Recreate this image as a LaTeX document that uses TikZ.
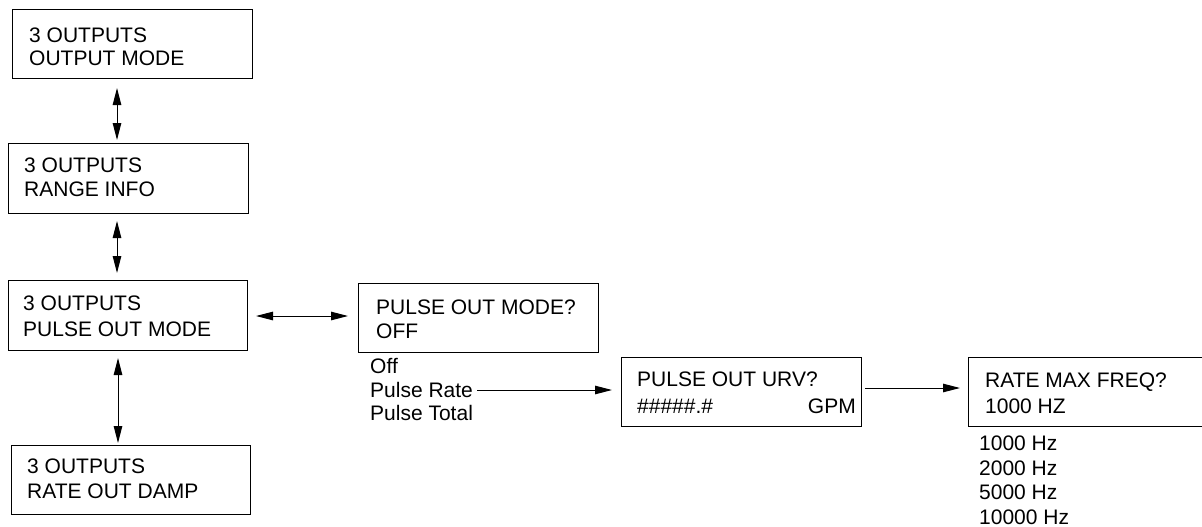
\documentclass[tikz,border=0pt]{standalone}
\usepackage{fontspec}
\setmainfont{Liberation Sans}
\usetikzlibrary{arrows.meta}
\begin{document}
\begin{tikzpicture}[x=1pt,y=-1pt,
  box/.style={draw,line width=1pt,inner sep=0pt,anchor=north west},
  txt/.style={anchor=base west,inner sep=0pt,font=\fontsize{21}{24}\selectfont},
  tip/.style={-{Triangle[length=17pt,width=8.5pt]}},
  both/.style={{Triangle[length=17pt,width=8.5pt]}-{Triangle[length=17pt,width=8.5pt]}},
  conn/.style={line width=1pt}]
\useasboundingbox (0,0) rectangle (1202,527);
\clip (0,0) rectangle (1202,527);
% boxes
\node[box,minimum width=240pt,minimum height=69pt] (b1) at (12,9) {};
\node[box,minimum width=240pt,minimum height=70pt] (b2) at (8,143) {};
\node[box,minimum width=239pt,minimum height=70pt] (b3) at (8,280) {};
\node[box,minimum width=239pt,minimum height=69pt] (b4) at (11,445) {};
\node[box,minimum width=240pt,minimum height=69pt] (b5) at (358,283) {};
\node[box,minimum width=240pt,minimum height=69pt] (b6) at (621,357) {};
\node[box,minimum width=280pt,minimum height=69pt] (b7) at (968,357) {};
% texts
\node[txt] (t1a) at (29,43) {3 OUTPUTS};
\node[txt] (t1b) at (29,66) {OUTPUT MODE};
\node[txt] (t2a) at (24,172) {3 OUTPUTS};
\node[txt] (t2b) at (24,196) {RANGE INFO};
\node[txt] (t3a) at (23,310) {3 OUTPUTS};
\node[txt] (t3b) at (23,336) {PULSE OUT MODE};
\node[txt] (t4a) at (27,473) {3 OUTPUTS};
\node[txt] (t4b) at (27,498) {RATE OUT DAMP};
\node[txt] (t5a) at (376,314) {PULSE OUT MODE?};
\node[txt] (t5b) at (376,338) {OFF};
\node[txt] (t6a) at (637,386) {PULSE OUT URV?};
\node[txt] (t6b) at (637,413) {\#\#\#\#\#.\#};
\node[txt,anchor=base east] (t6c) at (856,413) {GPM};
\node[txt] (t7a) at (985,387) {RATE MAX FREQ?};
\node[txt] (t7b) at (985,413) {1000 HZ};
% option lists
\node[txt] (o1) at (370,373) {Off};
\node[txt] (o2) at (370,397) {Pulse Rate};
\node[txt] (o3) at (370,420) {Pulse Total};
\node[txt] (f1) at (979,450) {1000 Hz};
\node[txt] (f2) at (979,475) {2000 Hz};
\node[txt] (f3) at (979,499) {5000 Hz};
\node[txt] (f4) at (979,524) {10000 Hz};
% connectors
\coordinate (ax) at (117,0);
\coordinate (ax3) at (118,0);
\draw[conn,both] ([yshift=-9pt]b1.south -| ax) -- ([yshift=3pt]b2.north -| ax);
\draw[conn,both] ([yshift=-7pt]b2.south -| ax) -- ([yshift=7pt]b3.north -| ax);
\draw[conn,both] ([yshift=-7pt]b3.south -| ax3) -- ([yshift=2pt]b4.north -| ax3);
\coordinate (hy) at (0,316);
\draw[conn,both] ([xshift=8pt]b3.east |- hy) -- ([xshift=-10pt]b5.west |- hy);
\coordinate (ry) at (0,390);
\draw[conn,tip] ([xshift=4pt]o2.east |- ry) -- ([xshift=-9pt]b6.west |- ry);
\coordinate (ry2) at (0,388);
\draw[conn,tip] ([xshift=3pt]b6.east |- ry2) -- ([xshift=-8pt]b7.west |- ry2);
\end{tikzpicture}
\end{document}
